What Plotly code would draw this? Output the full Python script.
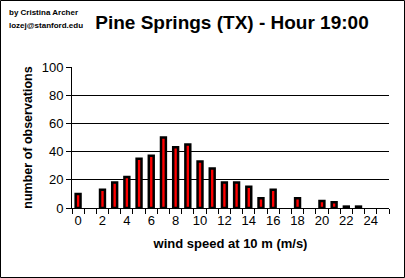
import plotly.graph_objects as go

speeds = [str(i) for i in range(26)]
counts = [10, 0, 13, 18, 22, 35, 37, 50, 43, 45, 33, 28, 18, 18, 15, 7, 13, 0, 7, 0, 5, 4, 1, 1, 0, 0]
tick_text = [s if int(s) % 2 == 0 and int(s) <= 24 else "" for s in speeds]

W, H = 405, 278
L, R, T, B = 72, 16, 67, 70
pw, ph = W - L - R, H - T - B

fig = go.Figure()
fig.add_trace(go.Bar(
    x=speeds, y=[c if c > 0 else None for c in counts],
    marker=dict(color="#FF0000", line=dict(color="black", width=2.5)),
))

font = "Arial, Liberation Sans, sans-serif"
fig.update_layout(
    width=W, height=H,
    margin=dict(l=L, r=R, t=T, b=B),
    paper_bgcolor="white", plot_bgcolor="white",
    bargap=0.6,
    showlegend=False,
    font=dict(family=font, size=12, color="black"),
    title=dict(text="<b>Pine Springs (TX) - Hour 19:00</b>", x=232 / W, xanchor="center",
               y=1 - 22 / H, yanchor="middle", font=dict(size=19, family=font, color="black")),
    xaxis=dict(type="category", categoryorder="array", categoryarray=speeds,
               tickvals=speeds, ticktext=tick_text, tickson="boundaries", tickangle=0,
               ticks="outside", ticklen=5, tickcolor="black", tickwidth=1,
               showline=True, linecolor="black", linewidth=1, showgrid=False,
               tickfont=dict(size=13, family=font),
               title=dict(text="<b>wind speed at 10 m (m/s)</b>", standoff=12,
                          font=dict(size=13, family=font))),
    yaxis=dict(range=[0, 100], dtick=20, ticks="outside", ticklen=5, tickcolor="black",
               showline=True, linecolor="black", linewidth=1,
               showgrid=True, gridcolor="black", gridwidth=1, zeroline=False,
               tickfont=dict(size=13, family=font),
               title=dict(text="<b>number of observations</b>", standoff=6,
                          font=dict(size=12.5, family=font))),
)

fig.add_annotation(text="<b>by Cristina Archer</b>", xref="paper", yref="paper",
                   x=(7 - L) / pw, y=1 + (T - 12) / ph, xanchor="left", yanchor="middle",
                   showarrow=False, font=dict(size=8, family=font))
fig.add_annotation(text="<b>lozej@stanford.edu</b>", xref="paper", yref="paper",
                   x=(7 - L) / pw, y=1 + (T - 25) / ph, xanchor="left", yanchor="middle",
                   showarrow=False, font=dict(size=8, family=font))

fig.add_shape(type="rect", xref="paper", yref="paper",
              x0=(0.5 - L) / pw, x1=(W - 0.5 - L) / pw,
              y0=-(B - 0.5) / ph, y1=1 + (T - 0.5) / ph,
              line=dict(color="black", width=1))

fig.write_html("out.html")
